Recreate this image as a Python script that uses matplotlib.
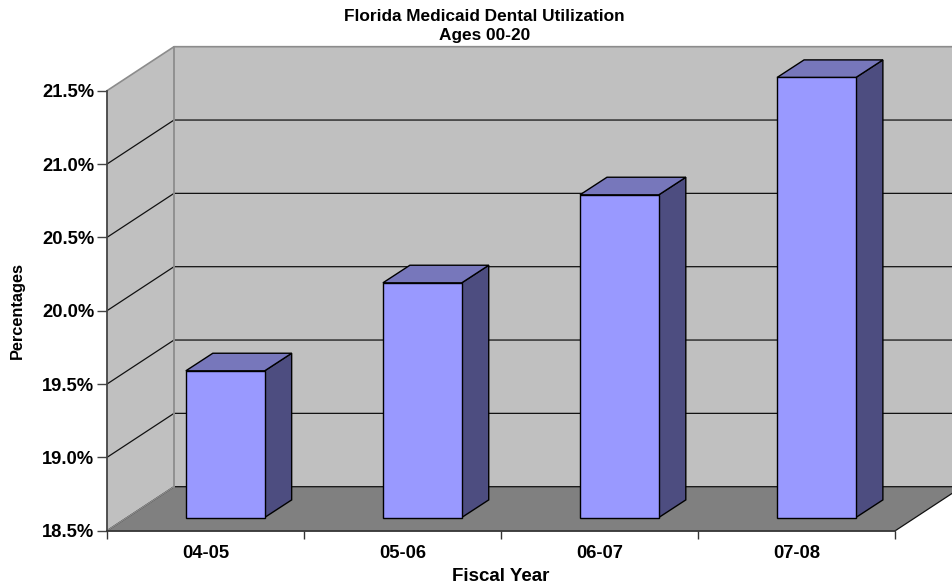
import numpy as np
import matplotlib
matplotlib.use('Agg')
import matplotlib.pyplot as plt
from matplotlib.patches import Polygon

plt.rcParams['font.family'] = ['Liberation Sans', 'DejaVu Sans']
plt.rcParams['font.weight'] = 'bold'
plt.rcParams['axes.labelweight'] = 'bold'

years = ['04-05', '05-06', '06-07', '07-08']
utilization = [19.5, 20.1, 20.7, 21.5]
y_ticks = [18.5, 19.0, 19.5, 20.0, 20.5, 21.0, 21.5]

# depth of the fake 3d box, in data units
wall_dx, wall_dy = 0.34, 0.30
bar_dx, bar_dy = 0.137, 0.12
# bars stand this far in from the front plane
inset_dx, inset_dy = 0.10, 0.09
bar_w = 0.40
y0, y1 = y_ticks[0], y_ticks[-1]
n = len(years)

W, H = 952, 586
fig = plt.figure(figsize=(W / 100, H / 100), dpi=100)
ax = fig.add_axes([107 / W, 1 - 530.7 / H, (895.3 - 107) / W, (530.7 - 90.7) / H])
ax.set_xlim(0, n)
ax.set_ylim(y0, y1)
ax.patch.set_visible(False)


def poly(pts, face, edge='none', lw=0, z=1):
    ax.add_patch(Polygon(pts, closed=True, facecolor=face, edgecolor=edge, linewidth=lw,
                         zorder=z, clip_on=False, joinstyle='miter'))


# side wall, back wall, floor
poly([(0, y0), (wall_dx, y0 + wall_dy), (wall_dx, y1 + wall_dy), (0, y1)], '#c0c0c0')
poly([(wall_dx, y0 + wall_dy), (n + wall_dx, y0 + wall_dy), (n + wall_dx, y1 + wall_dy), (wall_dx, y1 + wall_dy)], '#c0c0c0')
poly([(0, y0), (n, y0), (n + wall_dx, y0 + wall_dy), (wall_dx, y0 + wall_dy)], '#808080')

# gridlines
for v in y_ticks[:-1]:
    ax.plot([0, wall_dx, n + wall_dx], [v, v + wall_dy, v + wall_dy], color='#111111', lw=0.9,
            zorder=2, clip_on=False, solid_joinstyle='miter')
ax.plot([0, wall_dx], [y0, y0 + wall_dy], color='#8c8c8c', lw=1.0, zorder=2, clip_on=False)
ax.plot([n, n + wall_dx], [y0, y0 + wall_dy], color='#111111', lw=0.9, zorder=2, clip_on=False)

# wall outlines
ax.plot([0, wall_dx, n + wall_dx], [y1, y1 + wall_dy, y1 + wall_dy], color='#8c8c8c', lw=1.2, zorder=2, clip_on=False)
ax.plot([wall_dx, wall_dx], [y0 + wall_dy, y1 + wall_dy], color='#8c8c8c', lw=1.3, zorder=2, clip_on=False)

# bars: front face from the axes, top and side faces as polygons
for i, v in enumerate(utilization):
    left = i + (1 - bar_w) / 2 + inset_dx
    right = left + bar_w
    b = y0 + inset_dy
    t = b + (v - y0)
    poly([(right, b), (right + bar_dx, b + bar_dy), (right + bar_dx, t + bar_dy), (right, t)], '#4d4d80', 'black', 1.0, 3)
    poly([(left, t), (right, t), (right + bar_dx, t + bar_dy), (left + bar_dx, t + bar_dy)], '#7777bb', 'black', 1.0, 3)
    ax.bar(i + 0.5 + inset_dx, v - y0, width=bar_w, bottom=b, color='#9999ff', edgecolor='black',
           linewidth=1.0, zorder=4, clip_on=False)

for s in ['top', 'right']:
    ax.spines[s].set_visible(False)
ax.spines['left'].set_color('#444444')
ax.spines['left'].set_linewidth(1.3)
ax.spines['bottom'].set_color('#333333')
ax.spines['bottom'].set_linewidth(1.3)
ax.spines['left'].set_zorder(5)
ax.spines['bottom'].set_zorder(5)

ax.set_yticks(y_ticks)
ax.set_yticklabels(['%.1f%%' % v for v in y_ticks], fontsize=13.2)
ax.tick_params(axis='y', length=7.2, width=1.0, color='#444444', pad=2)
ax.set_xticks(np.arange(n + 1))
ax.set_xticklabels([])
ax.set_xticks(np.arange(n) + 0.5, minor=True)
ax.set_xticklabels(years, minor=True, fontsize=13.2)
ax.tick_params(axis='x', which='major', length=5.5, width=1.0, color='#333333')
ax.tick_params(axis='x', which='minor', length=0, pad=10)

ax.set_xlabel('Fiscal Year', fontsize=13.5)
ax.xaxis.label.set_verticalalignment('center')
ax.xaxis.set_label_coords(0.5, (530.7 - 576.5) / 440)
ax.set_ylabel('Percentages', fontsize=11.8)
ax.yaxis.label.set_verticalalignment('center')
ax.yaxis.set_label_coords((17.5 - 107) / (895.3 - 107), 0.5)
fig.text(484.5 / W, 1 - 26 / H, 'Florida Medicaid Dental Utilization\nAges 00-20', ha='center', va='center',
         fontsize=12.4, linespacing=1.35)

fig.savefig('out.png', dpi=100)
